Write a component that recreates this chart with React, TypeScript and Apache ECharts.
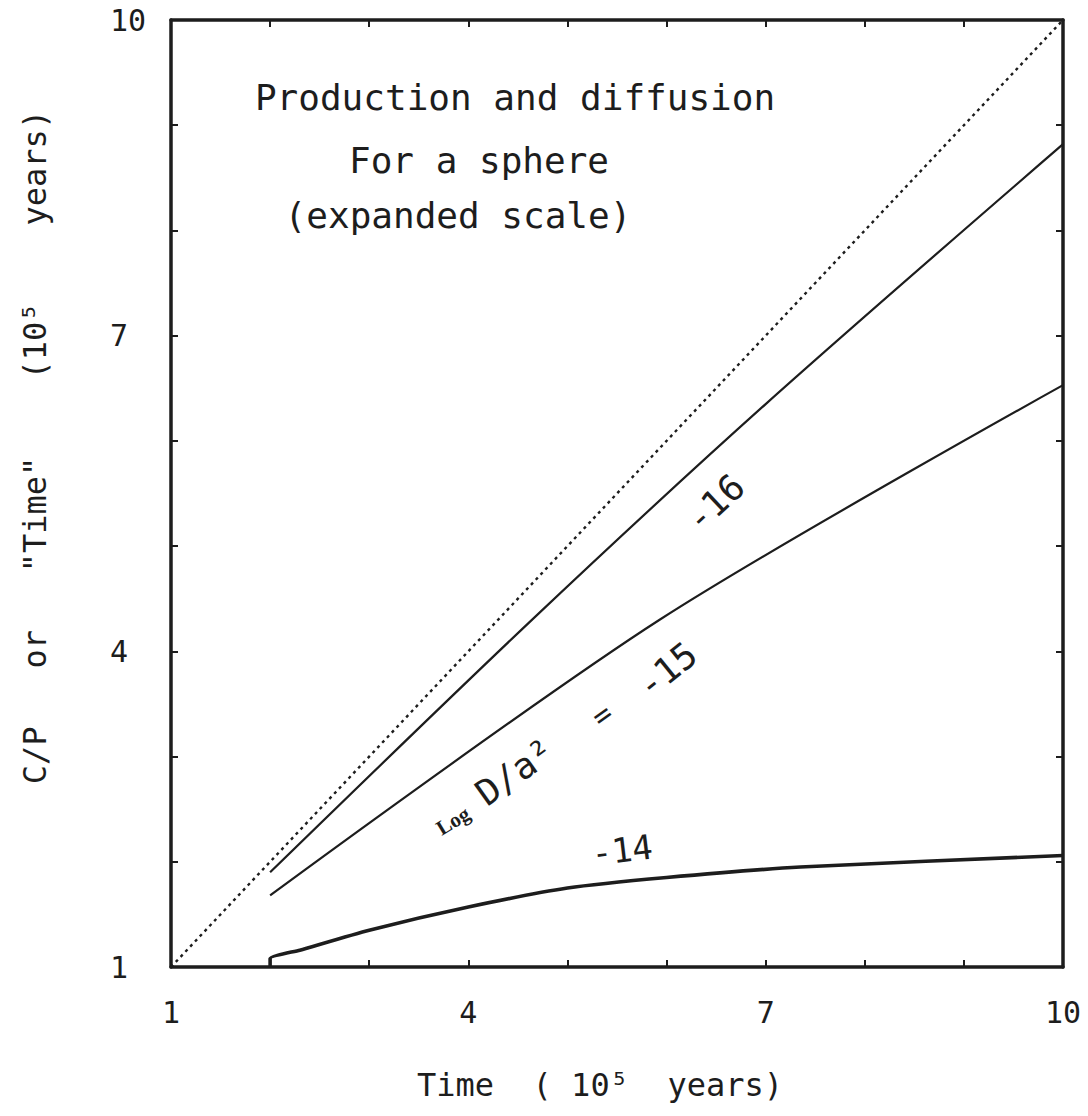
import React, { useEffect, useRef } from 'react';
import * as echarts from 'echarts';

// Tick labels shown on the axes (ticks at every integer 1..10)
const xTickLabels = ['1', '4', '7', '10'];
const yTickLabels = ['1', '4', '7', '10'];

// C/P = t reference line (dotted)
const diagonal = [[1, 1], [10, 10]];
// Log D/a^2 = -16
const logDm16 = [[2.0, 1.9], [4.62, 4.28], [7.0, 6.35], [10, 8.82]];
// Log D/a^2 = -15
const logDm15 = [[2.0, 1.68], [5.93, 4.3], [10, 6.53]];
// Log D/a^2 = -14
const logDm14 = [
  [2.0, 1.0], [2.0, 1.08], [2.3, 1.16], [3.0, 1.35], [4.0, 1.57],
  [5.0, 1.75], [6.0, 1.85], [7.35, 1.95], [10, 2.06],
];

const titleLines = ['Production and diffusion', 'For a sphere', '(expanded scale)'];
const xTitle = 'Time  ( 10⁵  years)';
const yTitle = 'C/P   or   "Time"    (10⁵    years)';

export default function App() {
  const ref = useRef<HTMLDivElement>(null);
  useEffect(() => {
    const chart = echarts.init(ref.current as HTMLDivElement, null, { renderer: 'svg' });
    const ink = '#1d1d1d';
    const mono = '"DejaVu Sans Mono", "Liberation Mono", monospace';
    const fmt = (labels: string[]) => (v: number) => (labels.includes(String(v)) ? String(v) : '');
    const axisCommon: any = {
      type: 'value',
      min: 1,
      max: 10,
      interval: 1,
      axisLine: { show: true, onZero: false, lineStyle: { color: ink, width: 3.5 } },
      axisTick: { show: true, inside: true, length: 7, lineStyle: { color: ink, width: 2 } },
      splitLine: { show: false },
    };
    const lineSeries = (data: number[][], width: number, extra: any = {}) => ({
      type: 'line',
      data,
      showSymbol: false,
      symbol: 'none',
      silent: true,
      lineStyle: { color: ink, width, ...(extra.lineStyle || {}) },
      ...(extra.rest || {}),
    });
    const txt = (text: string, x: number, y: number, size: number, rot = 0, font = mono, weight = 'normal') => ({
      type: 'text',
      x,
      y,
      rotation: rot,
      silent: true,
      style: {
        text,
        fill: ink,
        fontFamily: font,
        fontSize: size,
        fontWeight: weight,
        align: 'center',
        verticalAlign: 'middle',
      },
    });
    chart.setOption({
      animation: false,
      backgroundColor: '#ffffff',
      grid: { left: 171, right: 25, top: 20, bottom: 149 },
      xAxis: [
        {
          ...axisCommon,
          position: 'bottom',
          axisLabel: { formatter: fmt(xTickLabels), color: ink, fontFamily: mono, fontSize: 30, margin: 30 },
        },
        { ...axisCommon, position: 'top', axisLabel: { show: false } },
      ],
      yAxis: [
        {
          ...axisCommon,
          position: 'left',
          axisLabel: { formatter: fmt(yTickLabels), color: ink, fontFamily: mono, fontSize: 30, margin: 61, align: 'left' },
        },
        { ...axisCommon, position: 'right', axisLabel: { show: false } },
      ],
      series: [
        lineSeries(diagonal, 2.4, { lineStyle: { type: [3, 4], cap: 'butt' } }),
        lineSeries(logDm16, 2.2, { rest: { smooth: 0.3 } }),
        lineSeries(logDm15, 2.2, { rest: { smooth: 0.3 } }),
        lineSeries(logDm14, 3.6, { rest: { smooth: 0.2 } }),
      ],
      graphic: [
        txt(titleLines[0], 515, 97, 36),
        txt(titleLines[1], 479, 160, 36),
        txt(titleLines[2], 458, 215, 36),
        txt(xTitle, 600, 1085, 32),
        txt(yTitle, 35, 447, 32, Math.PI / 2),
        txt('Log', 453, 821, 21, 0.55, '"Liberation Serif", serif', 'bold'),
        txt('D/a²', 515, 772, 36, 0.62),
        txt('=', 602, 715, 30, 0.62),
        txt('-15', 667, 670, 36, 0.68),
        txt('-16', 715, 503, 36, 0.75),
        txt('-14', 622, 850, 34, 0.12),
      ],
    });
    return () => chart.dispose();
  }, []);
  return <div ref={ref} style={{ position: 'absolute', left: 0, top: 0, width: 1088, height: 1116 }} />;
}
